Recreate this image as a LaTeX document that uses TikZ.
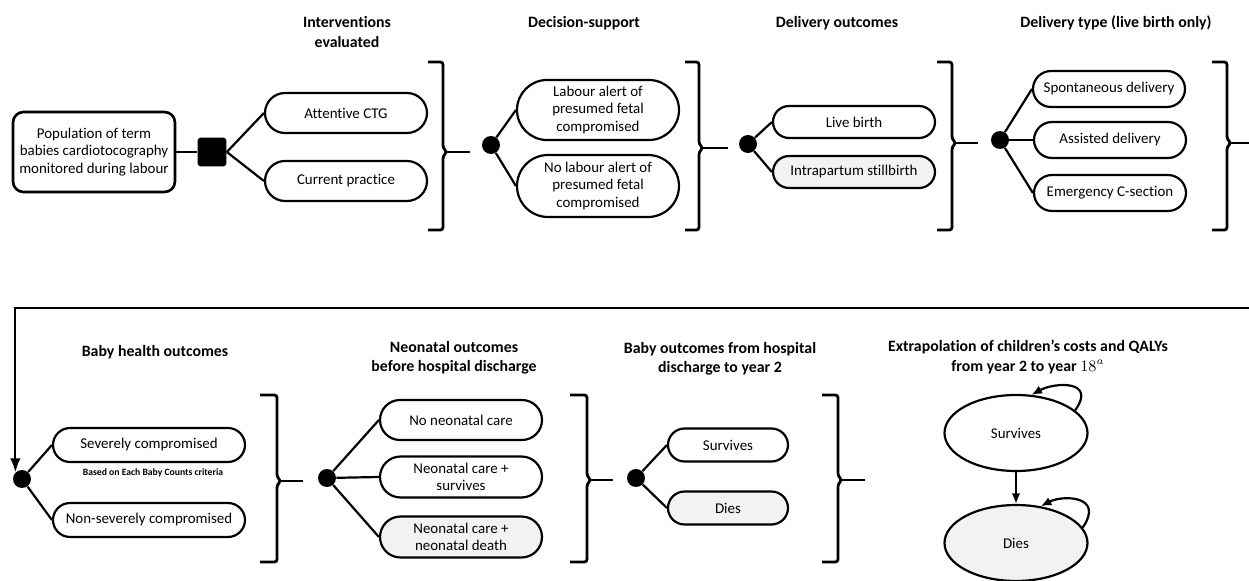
\documentclass[tikz,border=0pt]{standalone}
\usepackage{fontspec}
\setmainfont{Carlito}[Ligatures={TeX,NoCommon}]
\usepackage{tikz}
\usetikzlibrary{shapes.geometric,arrows.meta}
\usepackage{xcolor}
\definecolor{lightgray}{RGB}{242,242,242}

\begin{document}
\begin{tikzpicture}[
    x=0.02cm, y=-0.02cm,
    txt/.style={font=\fontsize{8.5}{9.8}\selectfont},
    state/.default=0.4cm,
    state/.style={rectangle, draw, line width=1.25pt, rounded corners=#1, minimum height=2*#1, minimum width=3.24cm, inner sep=1pt, align=center, txt},
    dead/.style={state=#1, fill=lightgray},
    popbox/.style={rectangle, draw, line width=1.5pt, rounded corners=6pt, minimum width=3.24cm, minimum height=1.6cm, align=center, txt},
    chance/.style={circle, fill=black, minimum size=0.36cm, inner sep=0pt},
    choice/.style={rectangle, rounded corners=2pt, fill=black, minimum size=0.58cm, inner sep=0pt},
    markov/.style={ellipse, draw, line width=1.25pt, minimum width=2.86cm, minimum height=1.52cm, txt},
    link/.style={line width=1.25pt},
    bracket/.style={line width=1.6pt, rounded corners=1.5pt},
    header/.style={font=\fontsize{9}{11}\selectfont\bfseries, align=center},
    note/.style={font=\fontsize{5.5}{6.5}\selectfont\bfseries}
]
    \useasboundingbox (0,0) rectangle (1249,581);

    % ---- Interventions evaluated ----
    \node[header] (h_int) at (347,32) {Interventions\\evaluated};
    \node[popbox] (pop) at (94,152) {Population of term\\babies cardiotocography\\monitored during labour};
    \node[choice] (dec) at (212,152) {};
    \node[state] (ctg) at (346,113) {Attentive CTG};
    \node[state] (cur) at (346,181) {Current practice};
    \draw[link] (pop) -- (dec);
    \draw[link] (dec.east) -- (ctg.west);
    \draw[link] (dec.east) -- (cur.west);
    \draw[bracket] (428,62) -- (443,62) -- (443,148) -- (447,152) -- (443,156) -- (443,230) -- (428,230);
    \draw[bracket] (447,152) -- (470,152);

    % ---- Decision-support ----
    \node[header] (h_ds) at (584,23) {Decision-support};
    \node[chance] (c_ds) at (491,145) {};
    \node[state=0.6cm] (alert) at (598,110) {Labour alert of\\presumed fetal\\compromised};
    \node[state=0.62cm] (noalert) at (598,186) {No labour alert of\\presumed fetal\\compromised};
    \draw[link] (c_ds) -- (alert.west);
    \draw[link] (c_ds) -- (noalert.west);
    \draw[bracket] (685,62) -- (699,62) -- (699,144) -- (703,148) -- (699,152) -- (699,230) -- (685,230);
    \draw[bracket] (703,148) -- (728,148);

    % ---- Delivery outcomes ----
    \node[header] (h_do) at (837,23) {Delivery outcomes};
    \node[chance] (c_do) at (748,144) {};
    \node[state=0.32cm] (live) at (854,122) {Live birth};
    \node[dead=0.32cm] (still) at (854,172) {Intrapartum stillbirth};
    \draw[link] (c_do) -- (live.west);
    \draw[link] (c_do) -- (still.west);
    \draw[bracket] (937,62) -- (952,62) -- (952,139) -- (956,143) -- (952,147) -- (952,230) -- (937,230);
    \draw[bracket] (956,143) -- (978,143);

    % ---- Delivery type ----
    \node[header] (h_dt) at (1116,23) {Delivery type (live birth only)};
    \node[chance] (c_dt) at (1000,140) {};
    \node[state=0.36cm, minimum width=3.04cm] (spont) at (1109,89) {Spontaneous delivery};
    \node[state=0.36cm, minimum width=3.04cm] (assist) at (1110,140) {Assisted delivery};
    \node[state=0.36cm, minimum width=3.04cm] (emerg) at (1110,193) {Emergency C-section};
    \draw[link] (c_dt) -- (spont.west);
    \draw[link] (c_dt) -- (assist.west);
    \draw[link] (c_dt) -- (emerg.west);
    \draw[bracket] (1212,62) -- (1227,62) -- (1227,139) -- (1231,143) -- (1227,147) -- (1227,230) -- (1212,230);
    \draw[bracket] (1231,143) -- (1249,143);

    % ---- Baby health outcomes ----
    \node[header] (h_bh) at (155,352) {Baby health outcomes};
    \node[chance] (c_bh) at (22,479) {};
    \coordinate (wrap) at (1249,308);
    \draw[link, -{Latex[length=8pt, width=6pt]}] (wrap) -| (c_bh.north west);
    \node[state=0.34cm, minimum width=3.84cm] (severe) at (149,445) {Severely compromised};
    \node[note] (ebc) at (153,473) {Based on Each Baby Counts criteria};
    \node[state=0.34cm, minimum width=3.84cm] (nonsevere) at (149,520) {Non-severely compromised};
    \draw[link] (c_bh) -- (severe.west);
    \draw[link] (c_bh) -- (nonsevere.west);
    \draw[bracket] (260,395) -- (277,395) -- (277,477) -- (281,481) -- (277,485) -- (277,562) -- (260,562);
    \draw[bracket] (281,481) -- (303,481);

    % ---- Neonatal outcomes ----
    \node[header] (h_nn) at (454,358) {Neonatal outcomes\\before hospital discharge};
    \node[chance] (c_nn) at (327,478) {};
    \node[state] (nocare) at (461,420) {No neonatal care};
    \node[state=0.41cm] (nnsurv) at (461,477) {Neonatal care +\\survives};
    \node[dead=0.41cm] (nndeath) at (461,537) {Neonatal care +\\neonatal death};
    \draw[link] (c_nn) -- (nocare.west);
    \draw[link] (c_nn) -- (nnsurv.west);
    \draw[link] (c_nn) -- (nndeath.west);
    \draw[bracket] (570,395) -- (587,395) -- (587,476) -- (591,480) -- (587,484) -- (587,562) -- (570,562);
    \draw[bracket] (591,480) -- (613,480);

    % ---- Discharge to year 2 ----
    \node[header] (h_y2) at (720,359) {Baby outcomes from hospital\\discharge to year 2};
    \node[chance] (c_y2) at (636,478) {};
    \node[state=0.33cm, minimum width=2.4cm] (surv2) at (728,445) {Survives};
    \node[dead=0.33cm, minimum width=2.4cm] (dies2) at (728,508) {Dies};
    \draw[link] (c_y2) -- (surv2.west);
    \draw[link] (c_y2) -- (dies2.west);
    \draw[bracket] (822,395) -- (838,395) -- (838,476) -- (842,480) -- (838,484) -- (838,562) -- (822,562);
    \draw[bracket] (842,480) -- (865,480);

    % ---- Extrapolation (Markov) ----
    \node[header] (h_mk) at (1028,357) {Extrapolation of children's costs and QALYs\\from year 2 to year $18^{a}$};
    \node[markov] (msurv) at (1016,433) {Survives};
    \node[markov, fill=lightgray] (mdies) at (1016,543) {Dies};
    \draw[link, -{Latex[length=6pt, width=5pt]}] (msurv) -- (mdies);
    \draw[link, -{Latex[length=6pt, width=5pt]}] (msurv.21) .. controls (1097,380) and (1055,382) .. (msurv.68);
    \draw[link, -{Latex[length=6pt, width=5pt]}] (mdies.13) .. controls (1105,495) and (1062,495) .. (mdies.56);
\end{tikzpicture}
\end{document}
